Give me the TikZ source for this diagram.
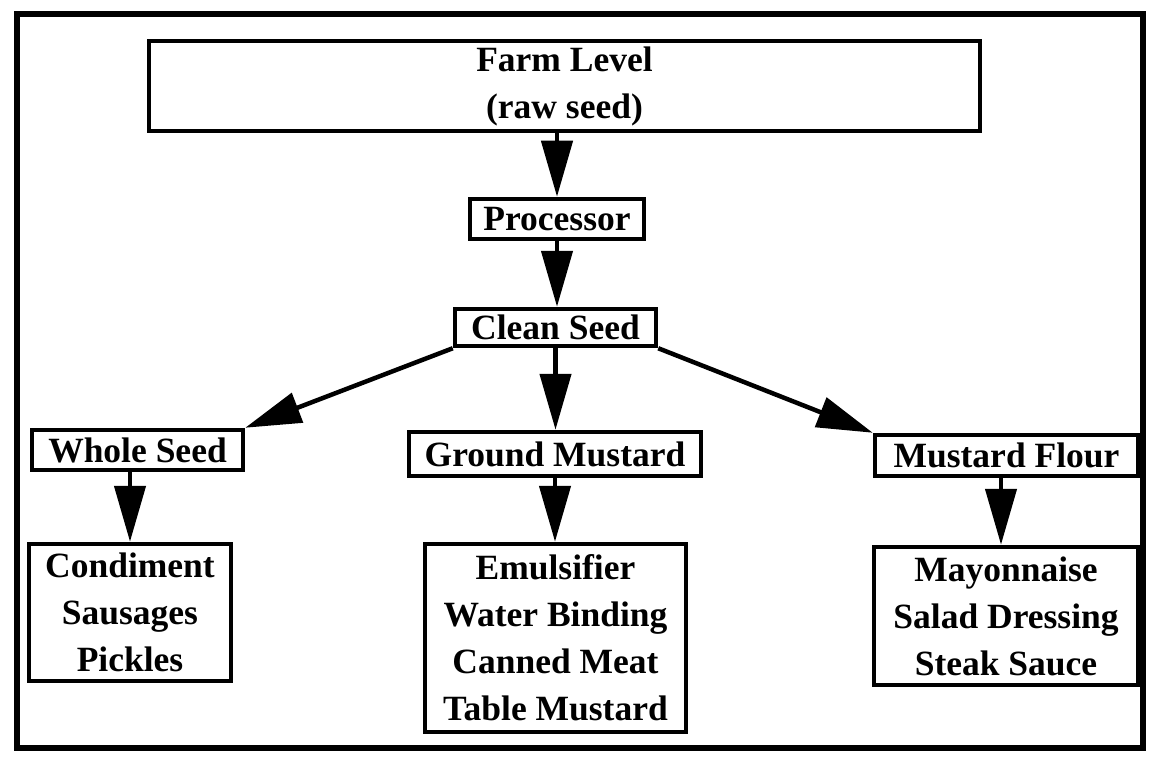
\documentclass[tikz,border=0pt]{standalone}
\usepackage{fontspec}
\setmainfont{Liberation Serif}
\usetikzlibrary{arrows.meta,calc}
\begin{document}
\begin{tikzpicture}[x=1pt,y=-1pt,
  box/.style={draw=black,line width=4.5pt,inner sep=0pt,align=center,
    font=\fontsize{35.5}{47}\selectfont\bfseries},
  flow/.style={line width=4.5pt,-{Triangle[length=56pt,width=31pt]}},
]
\useasboundingbox (0,0) rectangle (1150,759);
\node[draw=black,line width=6pt,minimum width=1126pt,minimum height=734pt,inner sep=0pt] (frame) at (580,381) {};
\node[box,minimum width=831pt,minimum height=90pt] (farm) at (564.5,86) {Farm Level\\(raw seed)};
\node[box,minimum width=174pt,minimum height=40pt] (proc) at (557,219) {Processor};
\node[box,minimum width=201pt,minimum height=37pt] (clean) at (555.5,327.5) {Clean Seed};
\node[box,minimum width=211pt,minimum height=40pt] (whole) at (137.5,450) {Whole Seed};
\node[box,minimum width=292pt,minimum height=44pt] (ground) at (555,454) {Ground Mustard};
\node[box,minimum width=263pt,minimum height=41pt] (flour) at (1006.5,455.5) {Mustard Flour};
\node[box,minimum width=202pt,minimum height=137pt] (cond) at (130,612.5) {Condiment\\Sausages\\Pickles};
\node[box,minimum width=261pt,minimum height=188pt] (emul) at (555.5,638) {Emulsifier\\Water Binding\\Canned Meat\\Table Mustard};
\node[box,minimum width=264pt,minimum height=138pt] (mayo) at (1006,616) {Mayonnaise\\Salad Dressing\\Steak Sauce};
\draw[flow] (proc.north |- farm.south) -- (proc.north);
\draw[flow] (proc.south) -- (proc.south |- clean.north);
\draw[flow] (clean.south) -- (clean.south |- ground.north);
\draw[flow] (clean.south west) -- (whole.north east);
\draw[flow] (clean.south east) -- (flour.north west);
\draw[flow] (cond.north |- whole.south) -- (cond.north);
\draw[flow] (ground.south) -- (ground.south |- emul.north);
\draw[flow] ([xshift=-5pt]mayo.north |- flour.south) -- ([xshift=-5pt]mayo.north);
\end{tikzpicture}
\end{document}
